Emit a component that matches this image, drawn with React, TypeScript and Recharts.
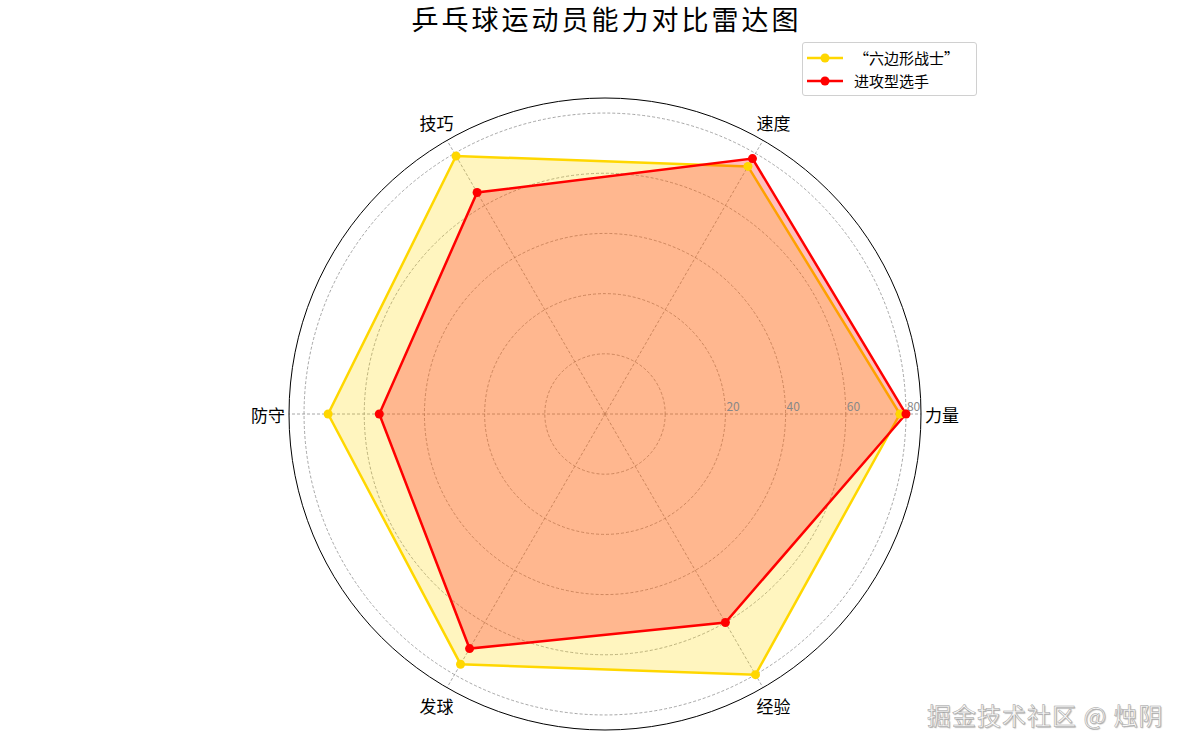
import React from 'react';
import { RadarChart, Radar, PolarGrid, PolarAngleAxis, PolarRadiusAxis, Legend } from 'recharts';

const categories = ['力量', '速度', '技巧', '防守', '发球', '经验'];
const allRounder = [78, 75, 79, 72, 76, 80];
const attacker = [80, 78, 65, 55, 70, 60];
const radiusTicks = [0, 20, 40, 60, 80];
const radiusDomain = [-20, 85];
const seriesNames = ['“六边形战士”', '进攻型选手'];
const seriesColors = ['#FFD700', '#FF0000'];
const titleText = '乒乓球运动员能力对比雷达图';
const watermark = '掘金技术社区 @ 烛阴';

// Recharts draws clockwise reliably; the reference runs counter-clockwise from the east,
// so the table lists the first category and then the rest in reverse order.
const rows = categories.map((c, i) => ({ subject: c, a: allRounder[i], b: attacker[i] }));
const data = [rows[0], ...rows.slice(1).reverse()];

const FONT = "'Noto Sans CJK SC', 'Noto Sans', sans-serif";

const RadiusTick = (props: any) => {
  const { x, y, payload } = props;
  if (payload.value === 0) return <g />;
  return (
    <text x={x + 1} y={y - 3} fill="#888" fontSize={12} fontFamily={FONT} textAnchor="start">
      {payload.value}
    </text>
  );
};

const AngleTick = (props: any) => {
  const { x, y, payload } = props;
  return (
    <text x={x} y={y} fill="#000" fontSize={17} fontFamily={FONT} textAnchor="middle" dominantBaseline="central">
      {payload.value}
    </text>
  );
};

const LegendContent = () => (
  <div
    style={{
      border: '1px solid #d0d0d0',
      borderRadius: 3,
      background: '#fff',
      padding: '3px 0 3px 4px',
      width: 175,
      boxSizing: 'border-box',
      fontFamily: FONT,
    }}
  >
    {seriesNames.map((n, i) => (
      <div key={n} style={{ display: 'flex', alignItems: 'center', height: 23 }}>
        <svg width={36} height={12}>
          <line x1={0} y1={6} x2={36} y2={6} stroke={seriesColors[i]} strokeWidth={2.5} />
          <circle cx={18} cy={6} r={4.5} fill={seriesColors[i]} />
        </svg>
        <span style={{ marginLeft: 11, fontSize: 15, color: '#000', whiteSpace: 'nowrap' }}>{n}</span>
      </div>
    ))}
  </div>
);

export default function App() {
  return (
    <div style={{ position: 'absolute', left: 0, top: 0, width: 1185, height: 752, background: '#fff', fontFamily: FONT }}>
      <div
        style={{
          position: 'absolute',
          top: 3,
          left: 14,
          width: 1185,
          textAlign: 'center',
          fontSize: 27,
          lineHeight: '32px',
          letterSpacing: 3,
          color: '#000',
        }}
      >
        {titleText}
      </div>
      <RadarChart
        width={1185}
        height={752}
        data={data}
        cx={605}
        cy={414}
        outerRadius={316}
        startAngle={0}
        endAngle={-360}
        margin={{ top: 0, right: 0, bottom: 0, left: 0 }}
      >
        <PolarGrid gridType="circle" stroke="#909090" strokeDasharray="3 2" strokeWidth={0.8} />
        <PolarAngleAxis
          dataKey="subject"
          axisLineType="circle"
          axisLine={{ stroke: '#000', strokeWidth: 1, strokeDasharray: '0' }}
          tickLine={false}
          tickSize={21}
          tick={<AngleTick />}
        />
        <PolarRadiusAxis
          angle={0}
          type="number"
          domain={radiusDomain}
          ticks={radiusTicks}
          axisLine={false}
          tickLine={false}
          tick={<RadiusTick />}
        />
        <Radar
          name={seriesNames[0]}
          dataKey="a"
          stroke={seriesColors[0]}
          strokeWidth={2.5}
          fill={seriesColors[0]}
          fillOpacity={0.25}
          dot={{ r: 4.5, fill: seriesColors[0], stroke: seriesColors[0], strokeWidth: 0, fillOpacity: 1 }}
          isAnimationActive={false}
        />
        <Radar
          name={seriesNames[1]}
          dataKey="b"
          stroke={seriesColors[1]}
          strokeWidth={2.5}
          fill={seriesColors[1]}
          fillOpacity={0.25}
          dot={{ r: 4.5, fill: seriesColors[1], stroke: seriesColors[1], strokeWidth: 0, fillOpacity: 1 }}
          isAnimationActive={false}
        />
        <Legend
          content={<LegendContent />}
          wrapperStyle={{ position: 'absolute', left: 802, top: 42, width: 175 }}
        />
      </RadarChart>
      <div
        style={{
          position: 'absolute',
          left: 927,
          top: 700,
          fontSize: 24,
          lineHeight: '30px',
          letterSpacing: 1,
          color: '#f8f8f8',
          WebkitTextStroke: '0.5px #a0a0a0',
          textShadow: '1px 1px 1px rgba(0,0,0,0.3)',
          whiteSpace: 'nowrap',
        }}
      >
        {watermark}
      </div>
    </div>
  );
}
